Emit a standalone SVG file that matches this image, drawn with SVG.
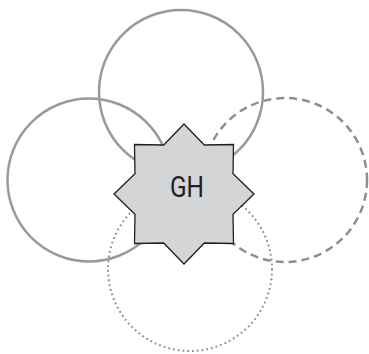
<svg xmlns="http://www.w3.org/2000/svg" width="369" height="354" viewBox="0 0 369 354">
<style>
.c{fill:none;stroke:#999a9c;stroke-width:2.5}
.dash{stroke:#8e8f91;stroke-dasharray:8 5}
.dot{stroke:#8e8f91;stroke-width:2;stroke-dasharray:1.8 3}
.star{fill:#d4d5d7;stroke:#231f20;stroke-width:1.3;stroke-linejoin:miter}
.lbl{font-family:Roboto,"Liberation Sans",sans-serif;font-size:29.5px;fill:#231f20}
</style>
<rect width="369" height="354" fill="#ffffff"/>
<g id="connectors">
<circle id="c-top" class="c" cx="181" cy="92" r="82"/>
<circle id="c-left" class="c" cx="89" cy="180" r="81.5"/>
<circle id="c-right" class="c dash" cx="285" cy="180" r="82"/>
<circle id="c-bottom" class="c dot" cx="190" cy="269" r="82"/>
</g>
<g id="node-GH">
<polygon class="star" points="184,124 204.3,145 233.5,144.5 233,173.7 254,194 233,214.3 233.5,243.5 204.3,243 184,264 163.7,243 134.5,243.5 135,214.3 114,194 135,173.7 134.5,144.5 163.7,145"/>
<text class="lbl" x="187" y="197.3" text-anchor="middle" textLength="34" lengthAdjust="spacingAndGlyphs">GH</text>
</g>
</svg>
